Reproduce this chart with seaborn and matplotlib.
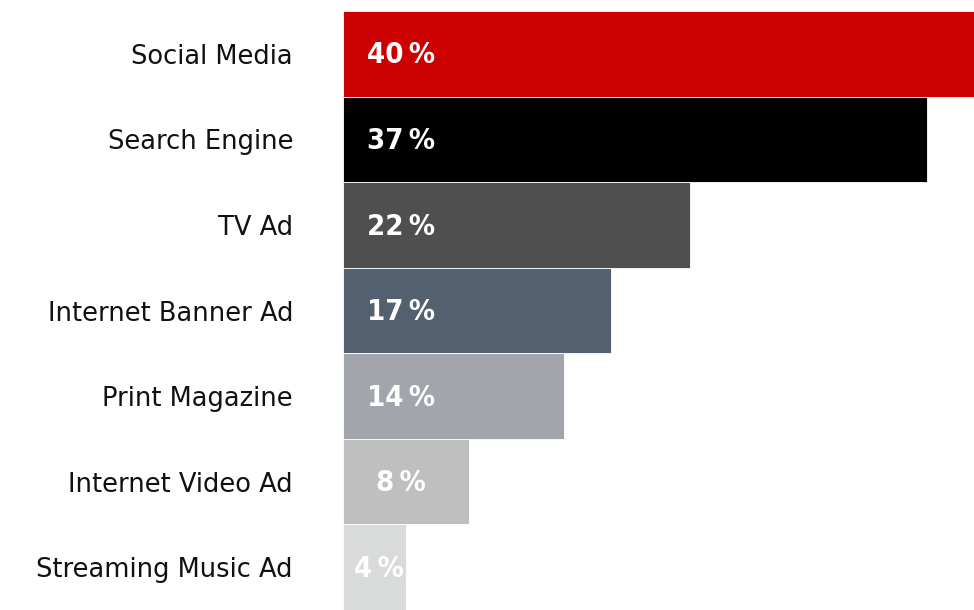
import matplotlib
matplotlib.use("Agg")
import matplotlib.pyplot as plt
import seaborn as sns
import pandas as pd

# Share of respondents by advertising channel
channels = [
    "Social Media",
    "Search Engine",
    "TV Ad",
    "Internet Banner Ad",
    "Print Magazine",
    "Internet Video Ad",
    "Streaming Music Ad",
]
shares = [40, 37, 22, 17, 14, 8, 4]
bar_colors = ["#CC0000", "#000000", "#4F4F4F", "#536070", "#A3A5AD", "#BFBFBF", "#D9DBDA"]

df = pd.DataFrame({"channel": channels, "share": shares})

sns.set_theme(style="white")
plt.rcParams["font.family"] = ["DejaVu Sans"]

fig = plt.figure(figsize=(9.74, 6.10), dpi=100)
ax = fig.add_axes([343 / 974, 0.0, 1 - 343 / 974, 1 - 11 / 610])

sns.barplot(
    data=df, x="share", y="channel", hue="channel",
    palette=bar_colors, saturation=1, orient="h", width=1.0, dodge=False,
    legend=False, edgecolor="white", linewidth=0.6, ax=ax,
)

ax.set_xlim(0, 40)
ax.set_ylim(len(channels) - 0.5, -0.5)
ax.set_xlabel("")
ax.set_ylabel("")
ax.set_xticks([])
for side in ax.spines.values():
    side.set_visible(False)
ax.tick_params(axis="y", length=0, pad=36, labelsize=18.5, labelcolor="#111111")

# Percent labels near the start of each bar, kept inside short bars
for i, v in enumerate(shares):
    ax.text(
        min(3.7, v - 1.75), i + 0.02, f"{v}\u2009%",
        ha="center", va="center", color="white",
        fontsize=21, fontweight="bold", fontstretch="condensed",
        family=["DejaVu Sans"],
    )

fig.savefig("out.png", dpi=100)
